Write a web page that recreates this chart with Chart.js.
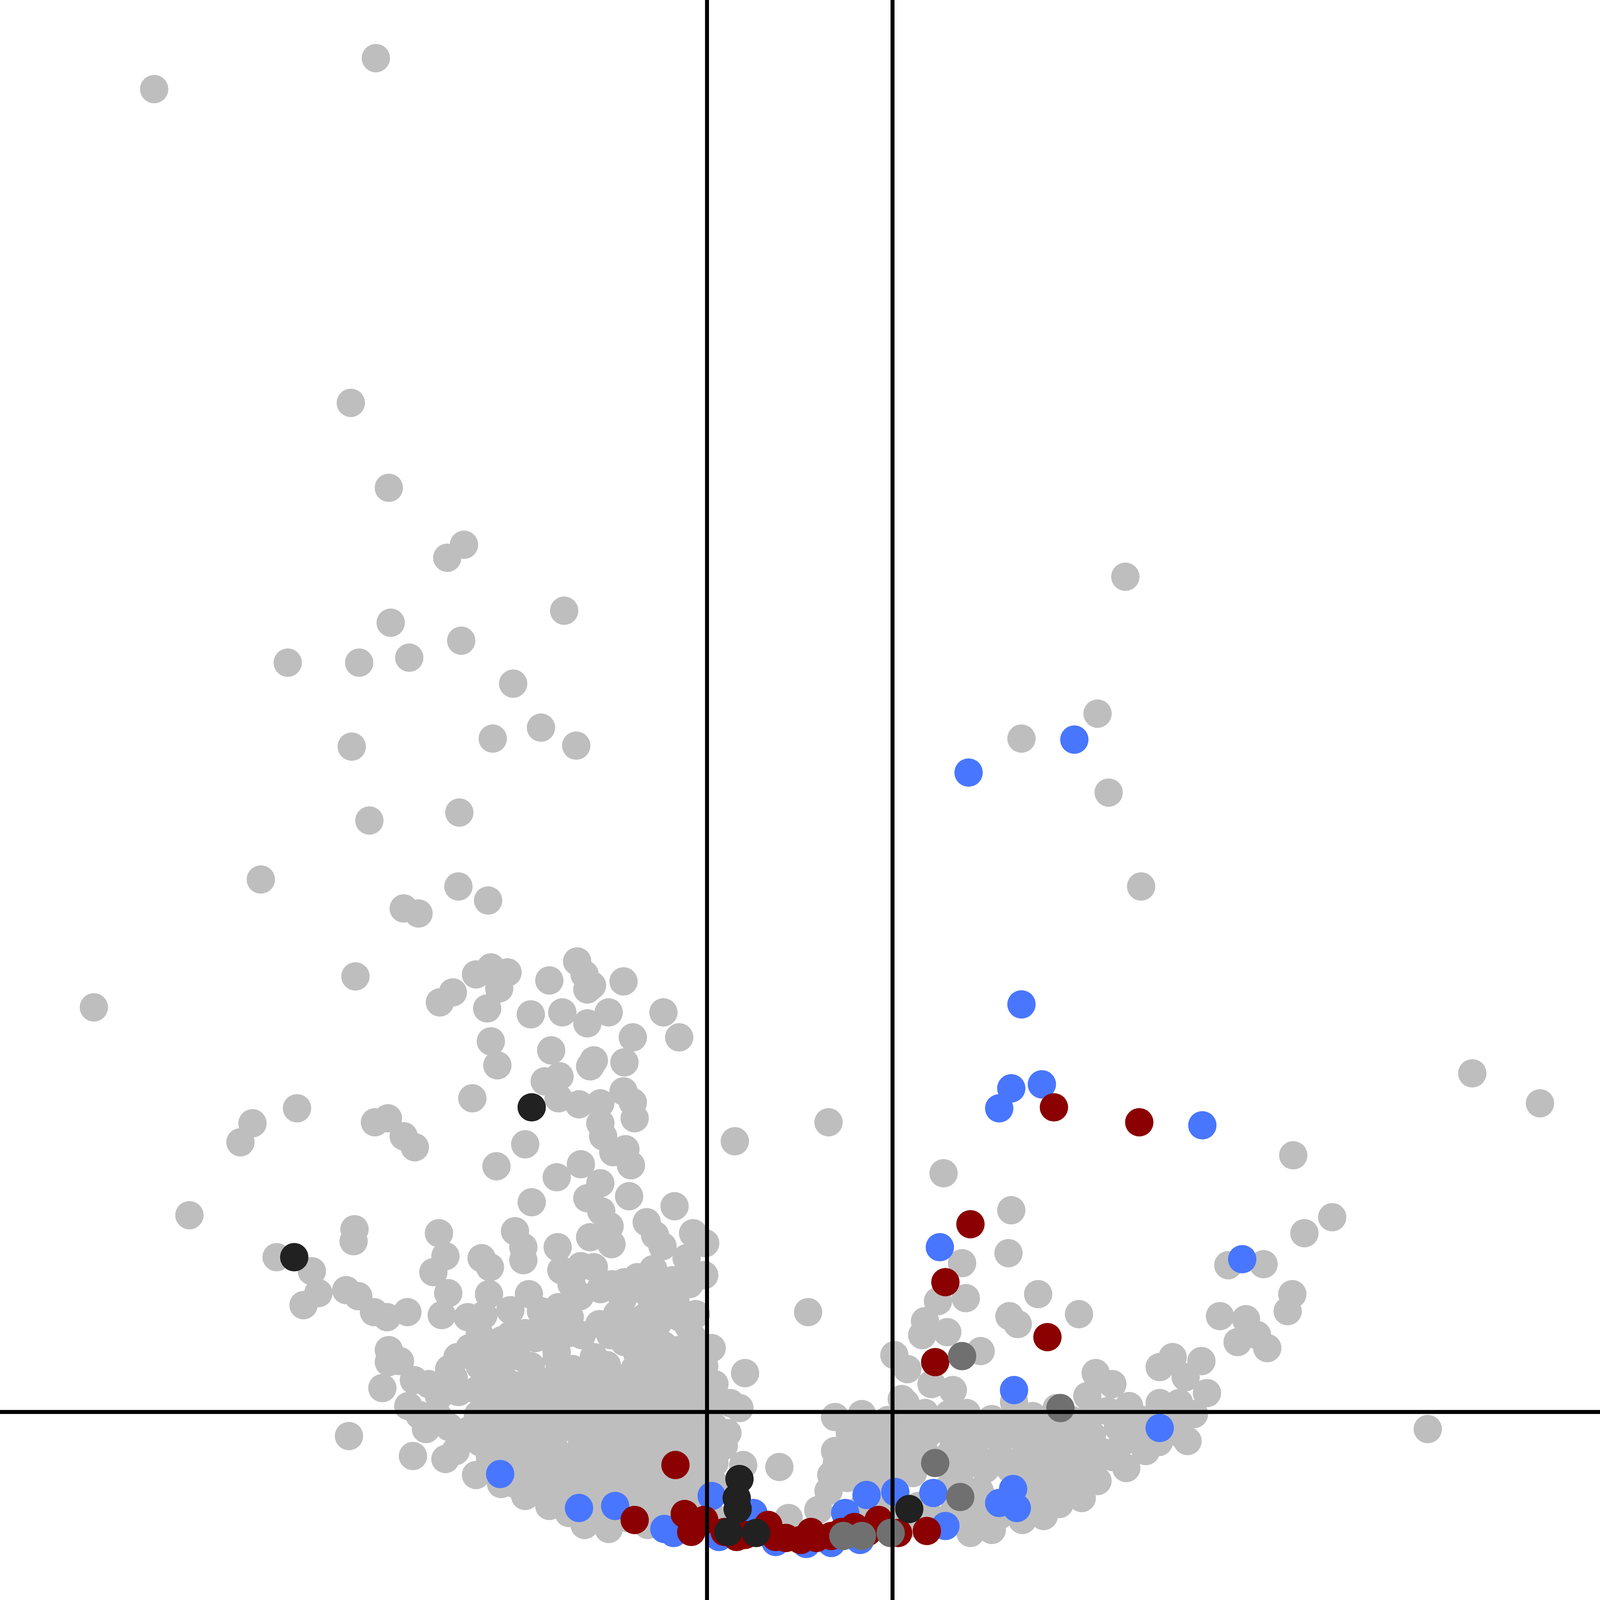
<!DOCTYPE html>
<html>
<head>
<meta charset="utf-8">
<title>Volcano plot</title>
<script src="https://cdn.jsdelivr.net/npm/chart.js@4.4.1/dist/chart.umd.min.js"></script>
<style>
  html, body { margin: 0; padding: 0; background: #fff; overflow: hidden; }
  #wrap { position: fixed; left: 0; top: 0; width: 100vw; height: 100vh; }
  canvas { display: block; }
</style>
</head>
<body>
<div id="wrap"><canvas id="volcano"></canvas></div>
<script>
// --- Axis ranges and cut-offs (log2 fold change / -log10 p) ---
const xRange = [-8.622, 8.627];
const yRange = [-0.581, 15.432];
const fcCutoffs = [-1, 1];
const pCutoff = 1.301;

// --- Points, [log2FC, -log10 p] ---
const grayPoints = [
    // sparse, top
    [-6.96,14.54],[-4.57,14.85],[-4.84,11.40],[-4.43,10.55],[-3.80,9.85],[-3.62,9.98],[-2.54,9.32],[-4.41,9.20],
    [-3.65,9.02],[-5.52,8.80],[-4.75,8.80],[-4.21,8.85],[-3.09,8.59],[-2.79,8.15],[-3.31,8.04],[-2.41,7.97],
    [-4.83,7.96],[-3.67,7.30],[-4.64,7.22],[-5.81,6.63],[-3.68,6.56],[-3.36,6.42],[-4.27,6.34],[-4.11,6.29],
    [-7.61,5.35],[-4.79,5.66],
    [3.51,9.66],[3.21,8.29],[2.39,8.04],[3.33,7.50],[3.68,6.56],[7.25,4.69],[7.98,4.39],[0.31,4.20],[-0.70,4.01],
    // left cluster, middle height
    [-3.88,5.40],[-3.74,5.50],[-3.49,5.68],[-3.33,5.75],[-3.15,5.70],[-3.24,5.54],[-3.37,5.34],[-3.33,5.01],
    [-3.26,4.77],[-3.53,4.44],[-2.70,5.62],[-2.40,5.81],[-2.32,5.68],[-2.24,5.57],[-2.29,5.53],[-1.90,5.61],
    [-2.90,5.28],[-2.56,5.30],[-2.29,5.19],[-2.06,5.30],[-1.47,5.30],[-1.30,5.05],[-1.80,5.05],[-2.68,4.92],
    [-2.22,4.82],[-2.26,4.76],[-1.89,4.80],[-2.75,4.61],[-2.59,4.66],[-2.60,4.44],[-2.38,4.38],[-2.15,4.39],
    [-1.90,4.51],[-1.80,4.40],[-1.78,4.24],[-2.15,4.19],[-2.12,4.06],[-2.96,3.98],[-3.27,3.76],[-2.36,3.78],
    [-2.62,3.65],[-2.01,3.90],[-1.88,3.93],[-1.82,3.77],[-2.15,3.59],[-1.84,3.46],[-2.29,3.44],[-2.89,3.40],
    [-2.14,3.31],[-1.35,3.36],[-2.05,3.16],[-1.65,3.20],[-1.56,3.07],[-1.15,3.09],[-2.26,3.05],[-3.07,3.11],
    [-2.98,2.95],[-2.61,2.95],[-3.89,3.09],[-3.82,2.86],[-3.43,2.84],[-1.48,2.96],
    [-1.02,2.99],[-1.22,2.84],[-2.03,2.98],[-2.22,2.75],[-2.57,2.72],[-1.75,2.65],[-1.37,2.62],[-2.37,2.46],
    [-1.34,2.40],[-2.60,2.35],[-1.30,2.25],[-2.16,2.18],[-2.66,2.18],[-1.15,2.04],[-1.05,1.89],[-1.02,1.62],
    [-2.62,1.85],[-2.45,1.73],[-2.22,1.85],
    // far left
    [-5.90,4.19],[-6.03,4.00],[-5.42,4.34],[-4.58,4.20],[-4.44,4.24],[-4.27,4.06],[-4.15,3.95],[-6.58,3.27],
    [-4.80,3.13],[-4.81,3.01],[-5.64,2.85],[-5.26,2.71],[-5.19,2.49],[-5.35,2.37],[-4.89,2.52],[-4.76,2.46],
    [-4.59,2.30],[-4.45,2.25],[-4.23,2.30],[-3.95,2.70],[-3.79,2.49],[-3.86,2.27],[-4.43,1.92],
    [-2.98,2.82],[-3.34,2.75],[-3.35,2.48],[-3.58,2.25],[-3.41,2.27],[-3.12,2.32],[-2.92,2.48],[-2.36,2.76],
    [-3.37,1.94],[-4.43,1.80],[-4.31,1.81],[-4.16,1.62],[-4.50,1.54],[-3.05,1.86],[-2.62,1.90],[-1.89,2.00],
    [-3.68,1.50],[-3.48,1.52],[-3.28,1.67],[-4.10,1.27],[-3.90,1.26],[-4.03,1.13],[-3.47,1.27],[-3.26,1.24],
    [-3.00,1.26],[-4.86,1.06],[-4.17,0.86],[-3.82,0.83],[-3.71,0.91],[-3.49,0.67],[-2.96,0.46],[-2.70,0.36],
    [-2.49,0.29],[-2.32,0.17],[-2.06,0.13],[-3.22,0.58],
    // dense left core
    [-2.85,2.04],[-2.49,2.09],[-1.65,2.11],[-1.47,1.97],[-2.85,1.64],[-2.02,1.66],[-1.78,1.73],[-1.53,1.62],
    [-1.27,1.75],[-3.78,1.73],[-3.25,1.43],[-2.99,1.49],[-2.70,1.40],[-2.43,1.47],[-2.15,1.42],[-1.91,1.51],
    [-1.66,1.37],[-1.39,1.45],[-1.14,1.48],[-2.74,1.18],[-2.48,1.24],[-2.23,1.15],[-1.97,1.22],[-1.71,1.13],
    [-1.47,1.23],[-1.20,1.17],[-0.98,1.28],[-3.45,1.00],[-3.18,0.95],[-2.90,1.01],[-2.63,0.91],[-2.35,0.98],
    [-2.11,0.90],[-1.83,0.97],[-1.58,0.89],[-1.34,0.98],[-1.08,0.91],[-0.87,1.03],[-2.98,0.70],[-2.70,0.77],
    [-2.43,0.68],[-2.15,0.74],[-1.90,0.66],[-1.63,0.53],[-1.08,0.70],[-0.92,0.79],[-2.74,0.51],[-2.13,0.46],
    [-1.86,0.50],[-1.58,0.41],[-1.32,0.49],[-1.03,0.52],[-1.86,0.24],[-1.64,0.17],[-0.92,0.24],[-0.75,1.39],
    [-0.65,1.34],[-0.82,0.96],[-0.78,1.09],[-0.61,0.77],[-0.92,1.58],[-0.95,1.94],[-0.59,1.69],
    [-1.91,2.43],[-1.61,2.45],[-1.80,2.21],[-1.53,2.19],[-2.02,2.58],[-1.58,2.73],[-2.04,2.07],[-1.31,1.92],
    [-1.75,1.88],[-3.56,1.94],[-3.12,2.07],
    [-2.46,2.58],[-2.15,2.53],[-1.89,2.60],[-1.71,2.53],[-1.45,2.50],[-1.19,2.58],[-1.03,2.67],
    [-2.79,2.31],[-2.48,2.25],[-1.97,2.28],[-1.67,2.25],[-1.42,2.31],[-1.12,2.28],
    [-3.45,2.07],[-3.21,2.02],[-2.96,2.09],[-2.68,2.02],[-2.35,2.07],[-1.82,2.07],[-1.56,2.02],[-1.20,2.16],
    [-3.69,1.85],[-3.45,1.76],[-3.18,1.82],[-2.90,1.76],[-2.59,1.73],[-2.33,1.70],[-2.08,1.77],[-1.58,1.80],
    [-1.38,1.70],[-1.03,1.76],
    [-4.00,1.58],[-3.73,1.64],[-3.12,1.58],[-2.85,1.51],[-2.59,1.58],[-2.30,1.58],[-2.04,1.52],[-1.78,1.58],
    [-1.53,1.46],[-1.27,1.58],[-0.92,1.46],
    [-4.22,1.36],[-3.89,1.46],[-3.40,1.36],[-3.12,1.31],[-2.85,1.29],[-2.57,1.28],[-2.30,1.34],[-2.04,1.31],
    [-1.80,1.34],[-1.53,1.34],[-1.31,1.31],[-1.05,1.36],
    [-3.78,1.15],[-3.56,1.12],[-3.29,1.09],[-3.01,1.09],[-2.63,1.09],[-2.35,1.07],[-2.08,1.06],[-1.82,1.09],
    [-1.58,1.05],[-1.34,1.09],[-1.09,1.09],[-0.92,1.15],
    [-3.34,0.85],[-3.07,0.83],[-2.79,0.88],[-2.52,0.80],[-2.24,0.85],[-2.02,0.79],[-1.75,0.81],[-1.49,0.75],
    [-1.23,0.81],[-0.98,0.88],
    [-3.07,0.58],[-2.85,0.63],[-2.57,0.58],[-2.30,0.55],[-2.02,0.61],[-1.75,0.67],[-1.47,0.61],[-1.20,0.63],
    [-0.92,0.58],
    [-2.52,0.43],[-2.24,0.37],[-1.75,0.37],[-1.47,0.30],[-1.14,0.39],[-2.24,0.22],[-2.02,0.27],[-1.36,0.24],
    // right side
    [1.55,3.69],[2.28,3.32],[2.25,2.89],[2.57,2.48],[3.01,2.28],[2.26,2.26],[2.35,2.18],[1.79,2.44],
    [1.75,2.79],[1.49,2.41],[1.35,2.21],[1.32,2.07],[1.59,2.10],[1.02,1.87],[1.16,1.73],[1.95,1.91],
    [1.42,1.58],[1.65,1.52],[1.14,1.39],[1.35,1.29],[1.80,1.29],[2.07,1.23],[2.31,1.40],[3.19,1.69],
    [3.10,1.46],[3.55,1.36],[3.88,1.75],[4.02,1.85],[4.16,1.65],[4.33,1.81],[4.39,1.49],[3.88,1.39],
    [4.09,1.39],[4.18,1.01],[3.73,0.91],[3.52,0.74],[3.21,0.61],[3.04,0.44],[2.80,0.38],[2.63,0.26],
    [2.40,0.22],[2.07,0.12],[1.84,0.09],[6.77,1.13],[5.32,3.87],[5.74,3.25],[5.44,3.09],[4.62,2.77],
    [5.00,2.78],[5.31,2.48],[5.26,2.31],[4.53,2.26],[4.81,2.23],[4.93,2.07],[4.72,2.00],[5.04,1.94],
    [0.09,2.30],[-0.22,0.75],[0.38,1.25],[0.54,1.09],[0.38,0.91],[0.81,1.12],[0.72,0.84],[0.51,0.64],
    [0.20,0.32],[-0.12,0.24],[1.10,1.43],
    // dense right core
    [0.95,1.22],[1.22,1.12],[1.50,1.19],[1.77,1.09],[2.03,1.14],[2.27,1.19],[2.51,1.26],[2.77,1.34],
    [2.93,1.22],[3.32,1.31],[3.37,1.58],[3.70,1.22],[3.98,1.15],[4.25,1.28],[0.86,0.91],[1.11,0.85],
    [1.33,0.95],[1.61,0.87],[1.88,0.95],[2.16,0.85],[2.44,0.94],[2.71,0.87],[2.99,0.97],[3.26,0.90],
    [3.48,1.00],[0.95,0.63],[1.22,0.69],[1.72,0.67],[2.00,0.73],[2.49,0.70],[2.77,0.63],[2.99,0.73],
    [0.84,0.43],[1.28,0.36],[1.83,0.39],[2.55,0.46],[2.82,0.55],[1.17,0.18],[1.83,0.24],[2.16,0.27],
    [0.67,1.28],[0.89,0.97],[0.75,0.67],[0.31,0.51],
    [1.17,1.22],[1.61,1.28],[2.38,1.22],[2.66,1.19],[3.15,1.28],[3.48,1.28],[4.03,1.31],
    [1.06,1.03],[1.39,1.09],[1.66,1.00],[1.92,1.07],[2.16,1.02],[2.38,1.09],[2.66,1.05],[2.88,1.09],
    [3.15,1.07],[3.43,1.15],[3.59,1.09],[3.87,1.00],[4.09,1.09],
    [0.62,0.85],[1.00,0.79],[1.77,0.79],[2.27,0.73],[2.60,0.79],[2.88,0.85],[3.15,0.79],[3.37,0.85],
    [1.61,0.55],[1.94,0.51],[2.49,0.55],[2.93,0.61],
    [0.73,0.24],[1.00,0.30],[1.39,0.27],[1.66,0.30],[1.99,0.24],[2.43,0.37],[2.71,0.39],
    [0.40,0.79],[0.60,0.97],[0.67,0.34],[0.34,0.67]
];

const bluePoints = [
    [1.82,7.70],[2.96,8.03],[2.39,5.38],[2.28,4.54],[2.61,4.58],[2.15,4.34],[4.34,4.17],[4.77,2.83],
    [1.51,2.95],[2.31,1.52],[3.88,1.14],[-3.23,0.68],[-2.38,0.34],[-1.99,0.36],[-1.46,0.13],[-0.95,0.46],
    [0.72,0.47],[1.03,0.50],[1.44,0.49],[2.30,0.53],[2.15,0.39],[2.34,0.34],[1.57,0.16],[0.49,0.29],
    [-0.50,0.29],[-0.26,0.00],[0.07,-0.02],[0.34,-0.01],[-0.87,0.05],[-1.36,0.09],[0.65,0.02]
];

const redPoints = [
    [2.74,4.35],[3.66,4.20],[1.84,3.18],[1.57,2.60],[2.67,2.05],[1.46,1.80],[-1.34,0.77],[-1.78,0.22],
    [-1.24,0.28],[-1.03,0.22],[-1.17,0.10],[-0.81,0.10],[-0.59,0.07],[-0.34,0.17],[-0.15,0.04],[0.01,0.02],
    [0.18,0.04],[0.34,0.06],[0.59,0.15],[0.85,0.22],[1.06,0.09],[1.37,0.11],[-0.26,0.05],[-0.68,0.05],
    [0.12,0.10],[0.45,0.10],[0.73,0.10]
];

const darkGrayPoints = [
    [1.75,1.86],[2.81,1.34],[1.46,0.79],[1.73,0.45],[0.47,0.06],[0.67,0.06],[0.98,0.09]
];

const blackPoints = [
    [-5.45,2.85],[-2.89,4.35],[-0.65,0.63],[-0.68,0.44],[-0.67,0.33],[-0.77,0.10],[-0.47,0.09],[1.18,0.33]
];

// marks are sized for a 5640 px wide page; scale them to the real viewport
const wrap = document.getElementById('wrap');
const k = wrap.clientWidth / 5640;
const dotRadius = 50 * k;
const lineWidth = 14 * k;

const toXY = pts => pts.map(([x, y]) => ({ x, y }));

function pointSet(label, pts, color) {
    return {
        label,
        data: toXY(pts),
        backgroundColor: color,
        borderWidth: 0,
        pointRadius: dotRadius,
        pointHoverRadius: dotRadius,
        showLine: false,
        clip: false
    };
}

function guideLine(label, pts) {
    return {
        label,
        data: toXY(pts),
        showLine: true,
        borderColor: '#000000',
        borderWidth: lineWidth,
        pointRadius: 0,
        fill: false
    };
}

// first dataset is painted last, so guides go first and grey goes last
const datasets = [
    guideLine('left cut-off', [[fcCutoffs[0], yRange[0]], [fcCutoffs[0], yRange[1]]]),
    guideLine('right cut-off', [[fcCutoffs[1], yRange[0]], [fcCutoffs[1], yRange[1]]]),
    guideLine('p cut-off', [[xRange[0], pCutoff], [xRange[1], pCutoff]]),
    pointSet('black', blackPoints, '#212121'),
    pointSet('dark grey', darkGrayPoints, '#707070'),
    pointSet('red', redPoints, '#8B0000'),
    pointSet('blue', bluePoints, '#4876FF'),
    pointSet('grey', grayPoints, '#BEBEBE')
];

new Chart(document.getElementById('volcano').getContext('2d'), {
    type: 'scatter',
    data: { datasets },
    options: {
        responsive: true,
        maintainAspectRatio: false,
        animation: false,
        events: [],
        layout: { padding: 0, autoPadding: false },
        plugins: {
            legend: { display: false },
            tooltip: { enabled: false }
        },
        scales: {
            x: { type: 'linear', min: xRange[0], max: xRange[1], display: false },
            y: { type: 'linear', min: yRange[0], max: yRange[1], display: false }
        }
    }
});
</script>
</body>
</html>
